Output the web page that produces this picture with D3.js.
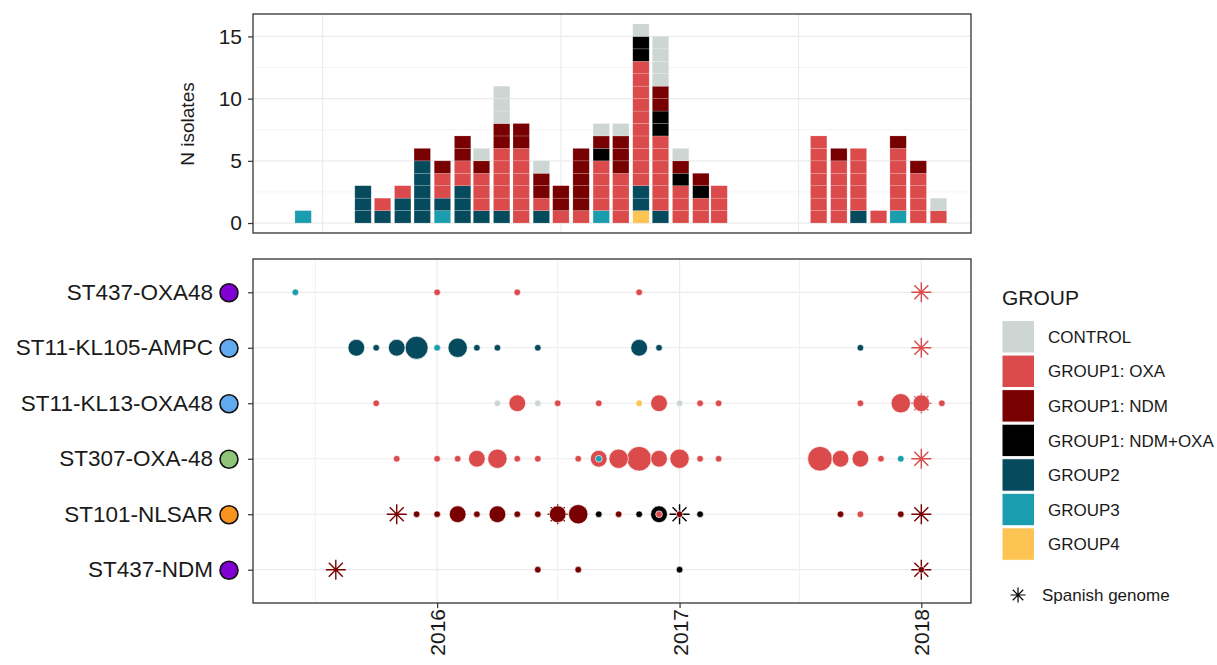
<!DOCTYPE html>
<html lang="en">
<head>
<meta charset="UTF-8">
<title>Isolates by month and lineage</title>
<script src="https://d3js.org/d3.v7.min.js"></script>
<style>
    body { margin: 0; background: #fff; }
    svg text { font-family: 'Liberation Sans', Arial, Helvetica, sans-serif; fill: #1a1a1a; }
</style>
</head>
<body>
<svg id="chart" width="1217" height="665"></svg>
<script>
// groups and colours (legend order)
const groups = ["CONTROL", "GROUP1: OXA", "GROUP1: NDM", "GROUP1: NDM+OXA", "GROUP2", "GROUP3", "GROUP4"];
const groupColors = ["#cdd6d3", "#db4b4b", "#780000", "#000000", "#064a5e", "#1a9daf", "#fdc453"];
// bottom -> top order inside each bar
const stackOrder = ["GROUP4", "GROUP3", "GROUP2", "GROUP1: OXA", "GROUP1: NDM+OXA", "GROUP1: NDM", "CONTROL"];

// monthly counts (top panel)
const months = ["2015-06", "2015-09", "2015-10", "2015-11", "2015-12", "2016-01", "2016-02", "2016-03", "2016-04",
    "2016-05", "2016-06", "2016-07", "2016-08", "2016-09", "2016-10", "2016-11", "2016-12", "2017-01", "2017-02",
    "2017-03", "2017-08", "2017-09", "2017-10", "2017-11", "2017-12", "2018-01", "2018-02"];
const countControl = [0, 0, 0, 0, 0, 0, 0, 1, 3, 0, 1, 0, 0, 1, 1, 1, 4, 1, 0, 0, 0, 0, 0, 0, 0, 0, 1];
const countOxa     = [0, 0, 1, 1, 0, 2, 2, 3, 5, 6, 1, 1, 1, 4, 4, 10, 6, 3, 2, 3, 7, 5, 5, 1, 5, 4, 1];
const countNdm     = [0, 0, 0, 0, 1, 1, 2, 1, 2, 2, 2, 2, 5, 1, 3, 0, 2, 1, 1, 0, 0, 1, 0, 0, 1, 1, 0];
const countNdmOxa  = [0, 0, 0, 0, 0, 0, 0, 0, 0, 0, 0, 0, 0, 1, 0, 2, 2, 1, 1, 0, 0, 0, 0, 0, 0, 0, 0];
const countGroup2  = [0, 3, 1, 2, 5, 1, 3, 1, 1, 0, 1, 0, 0, 0, 0, 2, 1, 0, 0, 0, 0, 0, 1, 0, 0, 0, 0];
const countGroup3  = [1, 0, 0, 0, 0, 1, 0, 0, 0, 0, 0, 0, 0, 1, 0, 0, 0, 0, 0, 0, 0, 0, 0, 0, 1, 0, 0];
const countGroup4  = [0, 0, 0, 0, 0, 0, 0, 0, 0, 0, 0, 0, 0, 0, 0, 1, 0, 0, 0, 0, 0, 0, 0, 0, 0, 0, 0];

// lineages (bottom panel)
const lineages = ["ST437-OXA48", "ST11-KL105-AMPC", "ST11-KL13-OXA48", "ST307-OXA-48", "ST101-NLSAR", "ST437-NDM"];
const lineageColors = ["#8000d4", "#62aaee", "#62aaee", "#8fc47a", "#f7931e", "#8000d4"];

// [lineage, month, group, n isolates]
const dots = [
    ["ST437-OXA48", "2015-06", "GROUP3", 1],
    ["ST437-OXA48", "2016-01", "GROUP1: OXA", 1],
    ["ST437-OXA48", "2016-05", "GROUP1: OXA", 1],
    ["ST437-OXA48", "2016-11", "GROUP1: OXA", 1],
    ["ST11-KL105-AMPC", "2015-09", "GROUP2", 2],
    ["ST11-KL105-AMPC", "2015-10", "GROUP2", 1],
    ["ST11-KL105-AMPC", "2015-11", "GROUP2", 2],
    ["ST11-KL105-AMPC", "2015-12", "GROUP2", 6],
    ["ST11-KL105-AMPC", "2016-01", "GROUP2", 1],
    ["ST11-KL105-AMPC", "2016-01", "GROUP3", 1],
    ["ST11-KL105-AMPC", "2016-02", "GROUP2", 3],
    ["ST11-KL105-AMPC", "2016-03", "GROUP2", 1],
    ["ST11-KL105-AMPC", "2016-04", "GROUP2", 1],
    ["ST11-KL105-AMPC", "2016-06", "GROUP2", 1],
    ["ST11-KL105-AMPC", "2016-11", "GROUP2", 2],
    ["ST11-KL105-AMPC", "2016-12", "GROUP2", 1],
    ["ST11-KL105-AMPC", "2017-10", "GROUP2", 1],
    ["ST11-KL13-OXA48", "2015-10", "GROUP1: OXA", 1],
    ["ST11-KL13-OXA48", "2016-04", "CONTROL", 1],
    ["ST11-KL13-OXA48", "2016-05", "GROUP1: OXA", 2],
    ["ST11-KL13-OXA48", "2016-06", "CONTROL", 1],
    ["ST11-KL13-OXA48", "2016-07", "GROUP1: OXA", 1],
    ["ST11-KL13-OXA48", "2016-09", "GROUP1: OXA", 1],
    ["ST11-KL13-OXA48", "2016-11", "GROUP4", 1],
    ["ST11-KL13-OXA48", "2016-12", "GROUP1: OXA", 2],
    ["ST11-KL13-OXA48", "2017-01", "CONTROL", 1],
    ["ST11-KL13-OXA48", "2017-02", "GROUP1: OXA", 1],
    ["ST11-KL13-OXA48", "2017-03", "GROUP1: OXA", 1],
    ["ST11-KL13-OXA48", "2017-10", "GROUP1: OXA", 1],
    ["ST11-KL13-OXA48", "2017-12", "GROUP1: OXA", 3],
    ["ST11-KL13-OXA48", "2018-01", "GROUP1: OXA", 2],
    ["ST11-KL13-OXA48", "2018-02", "GROUP1: OXA", 1],
    ["ST307-OXA-48", "2015-11", "GROUP1: OXA", 1],
    ["ST307-OXA-48", "2016-01", "GROUP1: OXA", 1],
    ["ST307-OXA-48", "2016-02", "GROUP1: OXA", 1],
    ["ST307-OXA-48", "2016-03", "GROUP1: OXA", 2],
    ["ST307-OXA-48", "2016-04", "GROUP1: OXA", 3],
    ["ST307-OXA-48", "2016-05", "GROUP1: OXA", 1],
    ["ST307-OXA-48", "2016-06", "GROUP1: OXA", 1],
    ["ST307-OXA-48", "2016-08", "GROUP1: OXA", 1],
    ["ST307-OXA-48", "2016-09", "GROUP1: OXA", 2],
    ["ST307-OXA-48", "2016-09", "GROUP3", 1],
    ["ST307-OXA-48", "2016-10", "GROUP1: OXA", 3],
    ["ST307-OXA-48", "2016-11", "GROUP1: OXA", 9],
    ["ST307-OXA-48", "2016-12", "GROUP1: OXA", 2],
    ["ST307-OXA-48", "2017-01", "GROUP1: OXA", 3],
    ["ST307-OXA-48", "2017-02", "GROUP1: OXA", 1],
    ["ST307-OXA-48", "2017-03", "GROUP1: OXA", 1],
    ["ST307-OXA-48", "2017-08", "GROUP1: OXA", 9],
    ["ST307-OXA-48", "2017-09", "GROUP1: OXA", 2],
    ["ST307-OXA-48", "2017-10", "GROUP1: OXA", 2],
    ["ST307-OXA-48", "2017-11", "GROUP1: OXA", 1],
    ["ST307-OXA-48", "2017-12", "GROUP3", 1],
    ["ST101-NLSAR", "2015-12", "GROUP1: NDM", 1],
    ["ST101-NLSAR", "2016-01", "GROUP1: NDM", 1],
    ["ST101-NLSAR", "2016-02", "GROUP1: NDM", 2],
    ["ST101-NLSAR", "2016-03", "GROUP1: NDM", 1],
    ["ST101-NLSAR", "2016-04", "GROUP1: NDM", 2],
    ["ST101-NLSAR", "2016-05", "GROUP1: NDM", 1],
    ["ST101-NLSAR", "2016-06", "GROUP1: NDM", 1],
    ["ST101-NLSAR", "2016-07", "GROUP1: NDM", 2],
    ["ST101-NLSAR", "2016-08", "GROUP1: NDM", 3],
    ["ST101-NLSAR", "2016-09", "GROUP1: NDM+OXA", 1],
    ["ST101-NLSAR", "2016-10", "GROUP1: NDM", 1],
    ["ST101-NLSAR", "2016-11", "GROUP1: NDM+OXA", 1],
    ["ST101-NLSAR", "2016-12", "GROUP1: NDM+OXA", 2],
    ["ST101-NLSAR", "2016-12", "GROUP1: OXA", 1],
    ["ST101-NLSAR", "2017-01", "GROUP1: NDM", 1],
    ["ST101-NLSAR", "2017-02", "GROUP1: NDM+OXA", 1],
    ["ST101-NLSAR", "2017-09", "GROUP1: NDM", 1],
    ["ST101-NLSAR", "2017-10", "GROUP1: OXA", 1],
    ["ST101-NLSAR", "2017-12", "GROUP1: NDM", 1],
    ["ST437-NDM", "2016-06", "GROUP1: NDM", 1],
    ["ST437-NDM", "2016-08", "GROUP1: NDM", 1],
    ["ST437-NDM", "2017-01", "GROUP1: NDM+OXA", 1],
    ["ST437-NDM", "2018-01", "GROUP1: NDM", 1]
];

// Spanish genomes: [lineage, month, group]
const spanish = [
    ["ST437-OXA48", "2018-01", "GROUP1: OXA"],
    ["ST11-KL105-AMPC", "2018-01", "GROUP1: OXA"],
    ["ST11-KL13-OXA48", "2018-01", "GROUP1: OXA"],
    ["ST307-OXA-48", "2018-01", "GROUP1: OXA"],
    ["ST101-NLSAR", "2015-11", "GROUP1: NDM"],
    ["ST101-NLSAR", "2016-07", "GROUP1: NDM"],
    ["ST101-NLSAR", "2017-01", "GROUP1: NDM+OXA"],
    ["ST101-NLSAR", "2018-01", "GROUP1: NDM"],
    ["ST437-NDM", "2015-08", "GROUP1: NDM"],
    ["ST437-NDM", "2018-01", "GROUP1: NDM"]
];

const yTicks = [0, 5, 10, 15];

// ---------------------------------------------------------------
const svg = d3.select("#chart");
const parseMonth = d3.timeParse("%Y-%m");
const color = d3.scaleOrdinal().domain(groups).range(groupColors);
const gridCol = "#ebebeb";
const frameCol = "#333";

const topBox = { left: 253, right: 971, top: 14, bottom: 233 };
const botBox = { left: 253, right: 971, top: 259, bottom: 603 };

const xTop = d3.scaleTime()
    .domain([new Date(2015, 2, 16), new Date(2018, 2, 23)])
    .range([topBox.left, topBox.right]);
const yTop = d3.scaleLinear().domain([-0.8, 16.8]).range([topBox.bottom, topBox.top]);

const xBot = d3.scaleTime()
    .domain([new Date(2015, 2, 29), new Date(2018, 2, 17)])
    .range([botBox.left, botBox.right]);
const yBot = d3.scalePoint().domain(lineages).range([botBox.top, botBox.bottom]).padding(0.6);

// ---------------- top panel: stacked bars ----------------
const gTop = svg.append("g");

// grid
gTop.selectAll(".hminor").data(d3.range(2.5, 16, 5)).join("line")
    .attr("x1", topBox.left).attr("x2", topBox.right)
    .attr("y1", d => yTop(d)).attr("y2", d => yTop(d))
    .attr("stroke", "#f2f2f2").attr("stroke-width", 0.8);
gTop.selectAll(".hmajor").data(yTicks).join("line")
    .attr("x1", topBox.left).attr("x2", topBox.right)
    .attr("y1", d => yTop(d)).attr("y2", d => yTop(d))
    .attr("stroke", gridCol).attr("stroke-width", 1.2);
const topVgrid = d3.timeMonth.every(6).range(...xTop.domain()).filter(d => d.getMonth() === 6);
gTop.selectAll(".vgrid").data(topVgrid).join("line")
    .attr("x1", d => xTop(d)).attr("x2", d => xTop(d))
    .attr("y1", topBox.top).attr("y2", topBox.bottom)
    .attr("stroke", gridCol).attr("stroke-width", 1.2);

// one rect per isolate, stacked
const countsByGroup = {
    "CONTROL": countControl, "GROUP1: OXA": countOxa, "GROUP1: NDM": countNdm,
    "GROUP1: NDM+OXA": countNdmOxa, "GROUP2": countGroup2, "GROUP3": countGroup3, "GROUP4": countGroup4
};
const units = [];
months.forEach((m, i) => {
    let level = 0;
    stackOrder.forEach(g => {
        for (let k = 0; k < countsByGroup[g][i]; k++) {
            units.push({ date: parseMonth(m), group: g, y0: level, y1: level + 1 });
            level++;
        }
    });
});
gTop.selectAll(".unit").data(units).join("rect")
    .attr("x", d => xTop(d3.timeHour.offset(d.date, -302)))
    .attr("width", d => xTop(d3.timeHour.offset(d.date, 302)) - xTop(d3.timeHour.offset(d.date, -302)))
    .attr("y", d => yTop(d.y1))
    .attr("height", d => yTop(d.y0) - yTop(d.y1))
    .attr("fill", d => color(d.group))
    .attr("stroke", "rgba(255,255,255,0.28)")
    .attr("stroke-width", 0.6);

gTop.append("rect")
    .attr("x", topBox.left).attr("y", topBox.top)
    .attr("width", topBox.right - topBox.left).attr("height", topBox.bottom - topBox.top)
    .attr("fill", "none").attr("stroke", frameCol).attr("stroke-width", 1.3);

const yAxisTop = gTop.append("g")
    .attr("transform", `translate(${topBox.left},0)`)
    .call(d3.axisLeft(yTop).tickValues(yTicks).tickSize(5).tickPadding(6).tickSizeOuter(0));
yAxisTop.select(".domain").remove();
yAxisTop.selectAll("line").attr("stroke", frameCol).attr("stroke-width", 1.2);
yAxisTop.selectAll("text").attr("font-size", "21px").attr("fill", "#1a1a1a");

svg.append("text")
    .attr("transform", "translate(194,124) rotate(-90)")
    .attr("text-anchor", "middle")
    .attr("font-size", "19px")
    .text("N isolates");

// ---------------- bottom panel: timeline dots ----------------
const gBot = svg.append("g");

gBot.selectAll(".rowgrid").data(lineages).join("line")
    .attr("x1", botBox.left).attr("x2", botBox.right)
    .attr("y1", d => yBot(d)).attr("y2", d => yBot(d))
    .attr("stroke", gridCol).attr("stroke-width", 1.2);
const botMinor = d3.timeMonth.every(6).range(...xBot.domain()).filter(d => d.getMonth() === 6);
gBot.selectAll(".vminor").data(botMinor).join("line")
    .attr("x1", d => xBot(d)).attr("x2", d => xBot(d))
    .attr("y1", botBox.top).attr("y2", botBox.bottom)
    .attr("stroke", "#f0f0f0").attr("stroke-width", 1);
const botMajor = d3.timeYear.every(1).range(...xBot.domain()).filter(d => d > xBot.domain()[0]);
gBot.selectAll(".vmajor").data(botMajor).join("line")
    .attr("x1", d => xBot(d)).attr("x2", d => xBot(d))
    .attr("y1", botBox.top).attr("y2", botBox.bottom)
    .attr("stroke", gridCol).attr("stroke-width", 1.2);

// asterisks underneath
const star = s => `M${-s},0H${s}M0,${-s}V${s}M${-s * 0.7},${-s * 0.7}L${s * 0.7},${s * 0.7}M${-s * 0.7},${s * 0.7}L${s * 0.7},${-s * 0.7}`;
gBot.selectAll(".spanish").data(spanish).join("path")
    .attr("transform", d => `translate(${xBot(parseMonth(d[1]))},${yBot(d[0])})`)
    .attr("d", star(10))
    .attr("fill", "none")
    .attr("stroke", d => color(d[2]))
    .attr("stroke-width", 1.4);

// size: log count, area style
const sizeScale = d3.scaleSqrt().domain([0, Math.log(9)]).range([0, 9]);
const dotR = n => 3.35 + sizeScale(Math.log(n));
const dotOrder = dots.map((d, i) => ({ d, i }))
    .sort((a, b) => b.d[3] - a.d[3] || a.i - b.i)
    .map(o => o.d);
gBot.selectAll(".dot").data(dotOrder).join("circle")
    .attr("cx", d => xBot(parseMonth(d[1])))
    .attr("cy", d => yBot(d[0]))
    .attr("r", d => dotR(d[3]))
    .attr("fill", d => color(d[2]))
    .attr("stroke", "#fff")
    .attr("stroke-width", 0.7);

gBot.append("rect")
    .attr("x", botBox.left).attr("y", botBox.top)
    .attr("width", botBox.right - botBox.left).attr("height", botBox.bottom - botBox.top)
    .attr("fill", "none").attr("stroke", frameCol).attr("stroke-width", 1.3);

const yAxisBot = gBot.append("g")
    .attr("transform", `translate(${botBox.left},0)`)
    .call(d3.axisLeft(yBot).tickSize(5).tickPadding(35).tickSizeOuter(0));
yAxisBot.select(".domain").remove();
yAxisBot.selectAll("line").attr("stroke", frameCol).attr("stroke-width", 1.2);
yAxisBot.selectAll("text").attr("font-size", "22.5px").attr("fill", "#1a1a1a");
yAxisBot.selectAll(".tick").append("circle")
    .attr("cx", -24).attr("cy", 0).attr("r", 9)
    .attr("fill", d => lineageColors[lineages.indexOf(d)])
    .attr("stroke", "#111").attr("stroke-width", 1.6);

const xAxisBot = gBot.append("g")
    .attr("transform", `translate(0,${botBox.bottom})`)
    .call(d3.axisBottom(xBot).tickValues(botMajor).tickFormat(d3.timeFormat("%Y")).tickSize(5).tickSizeOuter(0));
xAxisBot.select(".domain").remove();
xAxisBot.selectAll("line").attr("stroke", frameCol).attr("stroke-width", 1.2);
xAxisBot.selectAll("text")
    .attr("transform", "rotate(-90)")
    .attr("text-anchor", "end")
    .attr("x", -6).attr("y", 0).attr("dy", "0.36em")
    .attr("font-size", "21px").attr("fill", "#1a1a1a");

// ---------------- legend ----------------
const leg = svg.append("g").attr("transform", "translate(1002,0)");
leg.append("text").attr("x", 0).attr("y", 305).attr("font-size", "21px").text("GROUP");
const keyStep = 34.55;
const keys = leg.selectAll(".key").data(groups).join("g")
    .attr("transform", (d, i) => `translate(0,${320.5 + i * keyStep})`);
keys.append("rect")
    .attr("width", 32.5).attr("height", 32.5)
    .attr("fill", d => color(d))
    .attr("stroke", "#fff").attr("stroke-width", 1);
keys.append("text")
    .attr("x", 46).attr("y", 16.5).attr("dy", "0.35em")
    .attr("font-size", "17px")
    .text(d => d);

leg.append("path")
    .attr("transform", "translate(16,595)")
    .attr("d", star(7.5))
    .attr("fill", "none").attr("stroke", "#000").attr("stroke-width", 1.2);
leg.append("text")
    .attr("x", 40).attr("y", 595).attr("dy", "0.35em")
    .attr("font-size", "17px")
    .text("Spanish genome");
</script>
</body>
</html>
